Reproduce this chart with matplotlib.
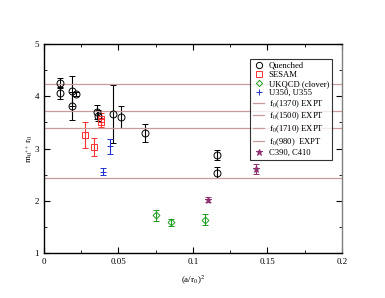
"""
Scalar glueball mass in units of r0 against (a/r0)^2
"""
import matplotlib
matplotlib.use("Agg")
import matplotlib.pyplot as plt
from matplotlib.lines import Line2D

plt.rcParams["font.family"] = ["Liberation Serif", "DejaVu Serif"]
plt.rcParams["mathtext.fontset"] = "stix"

# Quenched data
quenched_x = [0.0106, 0.0106, 0.0186, 0.0213, 0.0186, 0.0359, 0.0362, 0.0464, 0.0518, 0.0675, 0.1159, 0.1159]
quenched_y = [4.26, 4.06, 4.10, 4.05, 3.82, 3.70, 3.63, 3.66, 3.61, 3.30, 2.88, 2.54]
quenched_err = [0.10, 0.12, 0.28, 0.04, 0.27, 0.13, 0.10, 0.56, 0.21, 0.17, 0.10, 0.10]

# SESAM
sesam_x = [0.0278, 0.0336, 0.0380, 0.0386]
sesam_y = [3.26, 3.03, 3.50, 3.57]
sesam_err = [0.25, 0.18, 0.08, 0.12]

# UKQCD (clover)
ukqcd_x = [0.0749, 0.0850, 0.1080]
ukqcd_y = [1.72, 1.59, 1.64]
ukqcd_err = [0.11, 0.07, 0.10]

# U350, U355
u_x = [0.0395, 0.0444]
u_y = [2.56, 3.04]
u_err = [0.07, 0.14]

# C390, C410
c_x = [0.1100, 0.1424]
c_y = [2.02, 2.61]
c_err = [0.05, 0.10]

# experimental f0 states
expt_labels = ["f$_0$(1370) EXPT", "f$_0$(1500) EXPT", "f$_0$(1710) EXPT", "f$_0$(980)  EXPT"]
expt_values = [3.40, 3.72, 4.24, 2.43]

fig = plt.figure(figsize=(3.85, 2.98), dpi=100)
ax = fig.add_axes([0.1143, 0.151, 0.7737, 0.701])

eb = dict(capsize=2.5, elinewidth=0.8, capthick=0.8, markersize=5, linestyle="none",
          markeredgewidth=0.7)
black, red, green, blue, purple = "black", "#ff3030", "#20a020", "#2030d0", "#903070"
line_color = "#c89a9a"

ax.errorbar(quenched_x, quenched_y, yerr=quenched_err, fmt="o", color=black, mfc="none", **eb)
ax.errorbar(sesam_x, sesam_y, yerr=sesam_err, fmt="s", color=red, mfc="none", **eb)
ax.errorbar(ukqcd_x, ukqcd_y, yerr=ukqcd_err, fmt="D", color=green, mfc="none",
            **{**eb, "markersize": 3.5})
ax.errorbar(u_x, u_y, yerr=u_err, fmt="+", color=blue, **eb)
for v in expt_values:
    ax.axhline(v, color=line_color, lw=0.9)
ax.errorbar(c_x, c_y, yerr=c_err, fmt="*", color=purple, **eb)

ax.set_xlim(0, 0.2)
ax.set_ylim(1, 5)
ax.set_xticks([0, 0.05, 0.1, 0.15, 0.2])
ax.set_xticklabels(["0", "0.05", "0.1", "0.15", "0.2"])
ax.set_yticks([1, 2, 3, 4, 5])
ax.set_xticks([0.025, 0.075, 0.125, 0.175], minor=True)
ax.set_yticks([1.5, 2.5, 3.5, 4.5], minor=True)
ax.tick_params(which="both", direction="in", top=True, right=True, labelsize=6.5)
ax.tick_params(which="major", length=4, width=0.8)
ax.tick_params(which="minor", length=2, width=0.6)
for s in ax.spines.values():
    s.set_linewidth(1.0)
ax.spines["right"].set_color("#808080")

ax.set_xlabel("(a/r$_0$)$^2$", fontsize=6.5, labelpad=6)
ax.set_ylabel("m$_{0^{++}}$ r$_0$", fontsize=6.5, labelpad=0)

# legend proxies: markers only, no error bars
mk = dict(linestyle="none", markeredgewidth=0.7)
handles = [
    Line2D([], [], marker="o", color=black, mfc="none", markersize=4.5, **mk),
    Line2D([], [], marker="s", color=red, mfc="none", markersize=4, **mk),
    Line2D([], [], marker="D", color=green, mfc="none", markersize=3.2, **mk),
    Line2D([], [], marker="+", color=blue, markersize=5, **mk),
] + [Line2D([], [], color=line_color, lw=0.9) for _ in expt_labels] + [
    Line2D([], [], marker="*", color=purple, markersize=5, **mk),
]
labels = ["Quenched", "SESAM", "UKQCD (clover)", "U350, U355"] + expt_labels + ["C390, C410"]
leg = ax.legend(handles, labels, loc="upper right",
                bbox_to_anchor=(0.967, 0.93), fontsize=6.2, frameon=True,
                fancybox=False, edgecolor="black", handlelength=1.3,
                labelspacing=0.12, borderpad=0.35, handletextpad=0.5,
                borderaxespad=0)
leg.get_frame().set_linewidth(0.8)

fig.savefig("out.png", dpi=100)
